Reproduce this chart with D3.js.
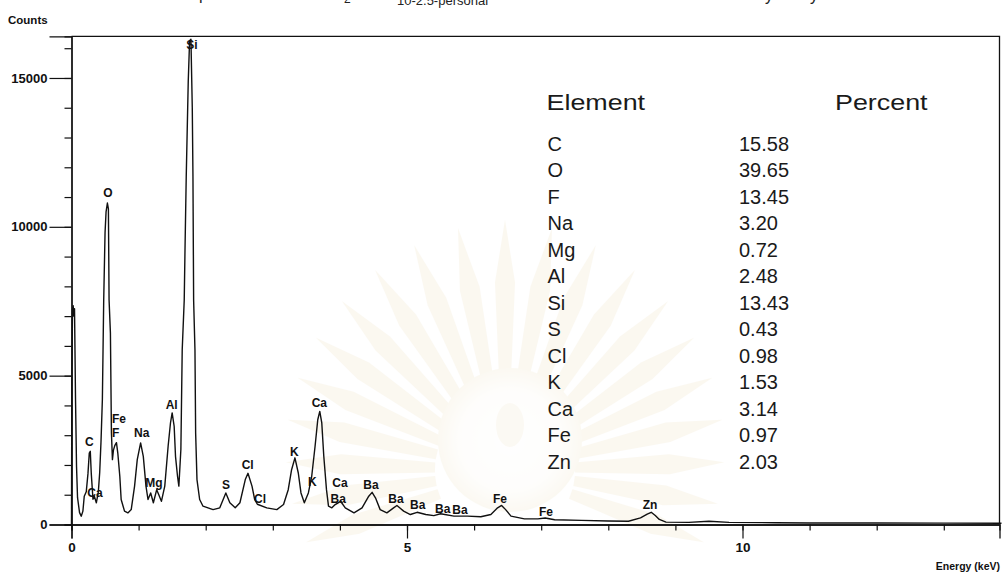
<!DOCTYPE html>
<html>
<head>
<meta charset="utf-8">
<script src="https://cdn.jsdelivr.net/npm/d3@7"></script>
<style>
  html, body { margin: 0; padding: 0; background: #fff; }
  svg { display: block; font-family: "Liberation Sans", Arial, Helvetica, sans-serif; }
</style>
</head>
<body>
<svg id="chart" width="1002" height="581"></svg>
<script>
// EDS spectrum: energy (keV) vs counts
const energy = [0.00, 0.005, 0.015, 0.025, 0.035, 0.045, 0.06, 0.075, 0.09, 0.12, 0.145, 0.17, 0.19, 0.22, 0.245, 0.265, 0.28, 0.295, 0.32, 0.34, 0.37, 0.40, 0.42, 0.44, 0.46, 0.48, 0.50, 0.515, 0.535, 0.55, 0.56, 0.58, 0.595, 0.61, 0.625, 0.645, 0.67, 0.69, 0.72, 0.74, 0.79, 0.84, 0.89, 0.94, 0.98, 1.03, 1.07, 1.11, 1.14, 1.18, 1.22, 1.27, 1.31, 1.34, 1.39, 1.44, 1.475, 1.50, 1.53, 1.55, 1.58, 1.60, 1.63, 1.65, 1.68, 1.69, 1.71, 1.74, 1.76, 1.78, 1.80, 1.81, 1.82, 1.84, 1.85, 1.87, 1.91, 1.96, 2.11, 2.21, 2.30, 2.36, 2.44, 2.51, 2.59, 2.63, 2.69, 2.73, 2.77, 2.91, 3.06, 3.16, 3.23, 3.28, 3.33, 3.38, 3.42, 3.47, 3.53, 3.58, 3.63, 3.67, 3.70, 3.73, 3.76, 3.80, 3.83, 3.88, 3.93, 4.01, 4.08, 4.21, 4.33, 4.43, 4.48, 4.53, 4.60, 4.70, 4.80, 4.85, 4.95, 5.05, 5.15, 5.28, 5.40, 5.50, 5.70, 5.90, 6.10, 6.25, 6.35, 6.41, 6.47, 6.55, 6.75, 6.95, 7.06, 7.20, 7.60, 8.00, 8.30, 8.48, 8.58, 8.64, 8.70, 8.76, 8.86, 9.20, 9.50, 9.80, 10.50, 11.00, 12.00, 13.00, 13.86];
const counts = [0, 4800, 7200, 7350, 7000, 7250, 4200, 1950, 900, 400, 280, 450, 950, 1100, 1700, 2400, 2460, 1700, 850, 950, 730, 1100, 1740, 2800, 4190, 7540, 9800, 10500, 10800, 10600, 7540, 6430, 3080, 2180, 2500, 2650, 2750, 2400, 1620, 840, 450, 390, 500, 1290, 2180, 2740, 2290, 1290, 840, 1060, 730, 1170, 950, 780, 1290, 2630, 3410, 3750, 3300, 2290, 1620, 1290, 2520, 5870, 7540, 9000, 11700, 14900, 16250, 16300, 14000, 11700, 7540, 5870, 3080, 1510, 840, 615, 500, 560, 1060, 730, 560, 730, 1510, 1720, 1290, 840, 680, 560, 500, 670, 1170, 1840, 2240, 1730, 1060, 730, 1060, 1620, 2630, 3520, 3800, 3410, 2290, 1170, 615, 560, 670, 780, 560, 390, 560, 950, 1080, 895, 500, 390, 560, 640, 450, 335, 410, 335, 300, 360, 280, 280, 260, 335, 560, 640, 500, 280, 190, 190, 220, 160, 140, 120, 110, 225, 350, 410, 300, 170, 80, 70, 110, 70, 60, 50, 50, 45, 40];

// Peak identification labels: element, energy (keV), count level of the label baseline
const peakNames  = ["Si", "O", "C", "Ca", "Fe", "F", "Na", "Mg", "Al", "S", "Cl", "Cl", "K", "K", "Ca", "Ca", "Ba", "Ba", "Ba", "Ba", "Ba", "Ba", "Fe", "Fe", "Zn"];
const peakEnergy = [1.796, 0.544, 0.265, 0.350, 0.708, 0.659, 1.046, 1.230, 1.493, 2.303, 2.626, 2.809, 3.320, 3.589, 3.693, 4.002, 3.976, 4.463, 4.836, 5.159, 5.532, 5.790, 6.386, 7.072, 8.621];
const peakLevel  = [15967, 10995, 2640, 927, 3426, 2923, 2943, 1243, 3873, 1186, 1858, 739, 2304, 1297, 3950, 1243, 739, 1186, 739, 514, 403, 346, 739, 289, 514];

// Quantification table
const elements = ["C", "O", "F", "Na", "Mg", "Al", "Si", "S", "Cl", "K", "Ca", "Fe", "Zn"];
const percents = ["15.58", "39.65", "13.45", "3.20", "0.72", "2.48", "13.43", "0.43", "0.98", "1.53", "3.14", "0.97", "2.03"];

// Axis ticks
const yMajorTicks = [0, 5000, 10000, 15000];
const yMinorTicks = d3.range(0, 16001, 1000);
const xMajorTicks = [0, 5, 10];
const xMinorTicks = d3.range(0, 14, 1);

const svg = d3.select("#chart");
const plotL = 71.5, plotR = 999.5, plotT = 36.3, plotB = 524.5;

const x = d3.scaleLinear().domain([0, (plotR - plotL) / 67.1]).range([plotL, plotR]);
const y = d3.scaleLinear().domain([0, 16400]).range([plotB, plotT]);

// Faint background emblem
const wm = svg.append("g").attr("transform", "translate(505,470)").attr("opacity", 0.14);
const rayAngles = d3.range(-200, 21, 11);
rayAngles.forEach(a => {
  const r0 = 70, r1 = 250 - Math.abs(a + 90) * 0.35, w = 10;
  const rad = a * Math.PI / 180;
  const p = d3.path();
  const pt = (r, off) => [Math.cos(rad) * r - Math.sin(rad) * off, Math.sin(rad) * r + Math.cos(rad) * off];
  let q = pt(r0, -w * 0.5); p.moveTo(q[0], q[1]);
  q = pt(r1 * 0.75, -w); p.lineTo(q[0], q[1]);
  q = pt(r1, 0); p.lineTo(q[0], q[1]);
  q = pt(r1 * 0.75, w); p.lineTo(q[0], q[1]);
  q = pt(r0, w * 0.5); p.lineTo(q[0], q[1]);
  p.closePath();
  wm.append("path").attr("d", p.toString()).attr("fill", "#e6d09a");
});
const glow = svg.append("defs").append("radialGradient").attr("id", "glow");
glow.append("stop").attr("offset", "0%").attr("stop-color", "#ffffff");
glow.append("stop").attr("offset", "70%").attr("stop-color", "#fbf6ea");
glow.append("stop").attr("offset", "100%").attr("stop-color", "#e9d6a6");
wm.append("circle").attr("cx", 5).attr("cy", -30).attr("r", 72).attr("fill", "url(#glow)");
wm.append("ellipse").attr("cx", 5).attr("cy", -45).attr("rx", 14).attr("ry", 22).attr("fill", "#ead9b0");

// Title line, mostly above the visible area
const title = svg.append("g").attr("fill", "#222");
title.append("text").attr("x", 199).attr("y", -0.5).attr("font-size", 16).text("p");
title.append("text").attr("x", 344).attr("y", 2.7).attr("font-size", 12).text("2");
title.append("text").attr("x", 397).attr("y", 5).attr("font-size", 13).text("10-2.5-personal");
title.append("text").attr("x", 765).attr("y", 1).attr("font-size", 16).text("y");
title.append("text").attr("x", 810).attr("y", 1).attr("font-size", 16).text("y");

// Frame (top and right)
svg.append("path")
  .attr("d", `M${plotL},${plotT}H${plotR}V${plotB}`)
  .attr("fill", "none").attr("stroke", "#111").attr("stroke-width", 1.3);

// Y axis
const yMinor = svg.append("g").attr("transform", `translate(${plotL},0)`)
  .call(d3.axisLeft(y).tickValues(yMinorTicks).tickSize(7).tickFormat(""));
const yMajor = svg.append("g").attr("transform", `translate(${plotL},0)`)
  .call(d3.axisLeft(y).tickValues(yMajorTicks).tickSize(22).tickPadding(2).tickFormat(d3.format("d")));

// X axis
const xMinor = svg.append("g").attr("transform", `translate(0,${plotB})`)
  .call(d3.axisBottom(x).tickValues(xMinorTicks).tickSize(6).tickFormat(""));
const xMajor = svg.append("g").attr("transform", `translate(0,${plotB})`)
  .call(d3.axisBottom(x).tickValues(xMajorTicks).tickSize(14).tickPadding(4).tickFormat(d3.format("d")));

[yMinor, yMajor, xMinor, xMajor].forEach(g => {
  g.select(".domain").attr("stroke", "#111").attr("stroke-width", 1.3);
  g.selectAll(".tick line").attr("stroke", "#111").attr("stroke-width", 1.2);
  g.selectAll(".tick text").attr("fill", "#111").attr("font-size", 13)
    .attr("font-weight", "bold").attr("font-family", "'Liberation Sans', Arial, sans-serif");
});
xMajor.selectAll(".tick text").attr("font-size", 13.5);

svg.append("text").attr("x", 8).attr("y", 23.5)
  .attr("font-size", 11.5).attr("font-weight", "bold").attr("fill", "#111").text("Counts");
svg.append("text").attr("x", 1000).attr("y", 570).attr("text-anchor", "end")
  .attr("font-size", 10.5).attr("font-weight", "bold").attr("fill", "#111").text("Energy (keV)");

// Spectrum trace
const pts = energy.map((e, i) => [e, counts[i]]);
svg.append("path")
  .datum(pts)
  .attr("fill", "none").attr("stroke", "#111").attr("stroke-width", 1.4)
  .attr("stroke-linejoin", "round")
  .attr("d", d3.line().x(d => x(d[0])).y(d => y(d[1])));

// Peak labels
svg.append("g").selectAll("text")
  .data(peakNames)
  .join("text")
  .attr("x", (d, i) => x(peakEnergy[i]))
  .attr("y", (d, i) => y(peakLevel[i]))
  .attr("text-anchor", "middle")
  .attr("font-size", 12).attr("font-weight", "bold").attr("fill", "#111")
  .text(d => d);

// Quantification table
const tbl = svg.append("g").attr("fill", "#1a1a1a");
tbl.append("text").attr("transform", "translate(546.5,110) scale(1.25,1)")
  .attr("font-size", 21.5).text("Element");
tbl.append("text").attr("transform", "translate(835,110) scale(1.25,1)")
  .attr("font-size", 21.5).text("Percent");
const rowY = i => 150.5 + i * 26.5;
tbl.selectAll(".el").data(elements).join("text")
  .attr("class", "el").attr("x", 547.5).attr("y", (d, i) => rowY(i))
  .attr("font-size", 20).text(d => d);
tbl.selectAll(".pc").data(percents).join("text")
  .attr("class", "pc").attr("x", 739).attr("y", (d, i) => rowY(i))
  .attr("font-size", 20).text(d => d);
</script>
</body>
</html>
